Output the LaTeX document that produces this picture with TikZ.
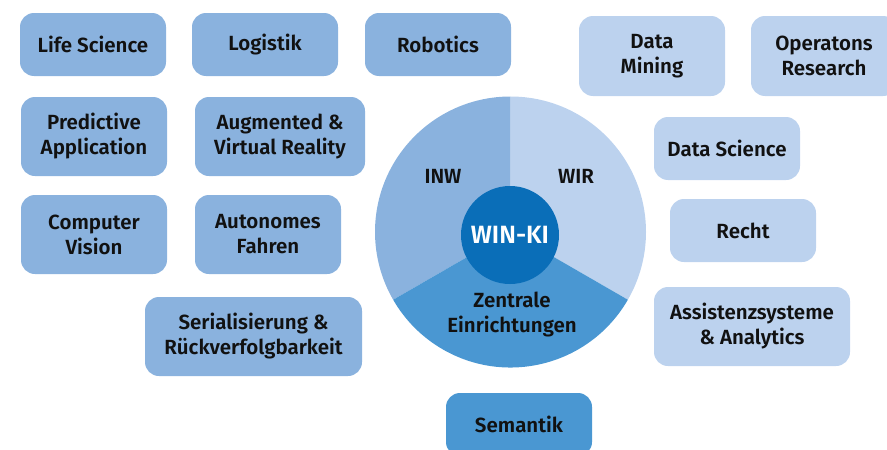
\documentclass[tikz,border=0pt]{standalone}
\usepackage{fontspec}
\setmainfont{Fira Sans}[UprightFont=* SemiBold, BoldFont=* Bold]
\definecolor{midblue}{HTML}{8AB2DE}
\definecolor{lightblue}{HTML}{BCD2EE}
\definecolor{darkblue}{HTML}{4A97D2}
\definecolor{coreblue}{HTML}{0A6EB8}
\definecolor{txt}{HTML}{111111}
\tikzset{
  box/.style={rounded corners=14pt, align=center, inner sep=0pt, text=txt,
    font=\fontsize{20.5}{25}\selectfont},
  lbox/.style={box, fill=midblue},
  rbox/.style={box, fill=lightblue},
  dbox/.style={box, fill=darkblue},
  seclabel/.style={align=center, text=txt, font=\fontsize{20.5}{25}\selectfont},
}
\begin{document}
\begin{tikzpicture}[x=1pt,y=-1pt]
\useasboundingbox (0,0) rectangle (887,450);
\clip (0,0) rectangle (887,450);
% left boxes
\node[lbox, minimum width=146pt, minimum height=63pt] (life) at (93,44.5) {Life Science};
\node[lbox, minimum width=146pt, minimum height=63pt] (logi) at (265,44.5) {Logistik};
\node[lbox, minimum width=146pt, minimum height=63pt] (robo) at (438,44.5) {Robotics};
\node[lbox, minimum width=146pt, minimum height=79pt] (pred) at (94,136.5) {Predictive\\Application};
\node[lbox, minimum width=170pt, minimum height=79pt] (augm) at (280,136.5) {Augmented \&\\Virtual Reality};
\node[lbox, minimum width=146pt, minimum height=79pt] (comp) at (94,234.5) {Computer\\Vision};
\node[lbox, minimum width=146pt, minimum height=79pt] (auto) at (268,234.5) {Autonomes\\Fahren};
\node[lbox, minimum width=217pt, minimum height=79pt] (seri) at (253.5,336.5) {Serialisierung \&\\Rückverfolgbarkeit};
% bottom box
\node[dbox, minimum width=146pt, minimum height=63pt] (sema) at (519,424.5) {Semantik};
% right boxes
\node[rbox, minimum width=146pt, minimum height=80pt] (dmin) at (652,56) {Data\\Mining};
\node[rbox, minimum width=146pt, minimum height=80pt] (oper) at (824,56) {Operatons\\Research};
\node[rbox, minimum width=146pt, minimum height=63pt] (dsci) at (727,148.5) {Data Science};
\node[rbox, minimum width=146pt, minimum height=63pt] (rech) at (743,230.5) {Recht};
\node[rbox, minimum width=196pt, minimum height=79pt] (assi) at (752,326.5) {Assistenzsysteme\\\& Analytics};
% circle
\coordinate (c) at (510.5,232);
\fill[midblue] (c) -- ++(-90:135.5) arc[start angle=-90, end angle=-210, radius=135.5] -- cycle;
\fill[lightblue] (c) -- ++(-90:135.5) arc[start angle=-90, end angle=30, radius=135.5] -- cycle;
\fill[darkblue] (c) -- ++(30:135.5) arc[start angle=30, end angle=150, radius=135.5] -- cycle;
\node[seclabel] (inw) at (443,176) {INW};
\node[seclabel] (wir) at (576,176) {WIR};
\node[seclabel] (zent) at (512,314.5) {Zentrale\\Einrichtungen};
\node[circle, fill=coreblue, minimum size=98pt, inner sep=0pt, text=white,
  font=\fontsize{25}{28}\selectfont] (core) at (510,235) {WIN-KI};
\end{tikzpicture}
\end{document}
